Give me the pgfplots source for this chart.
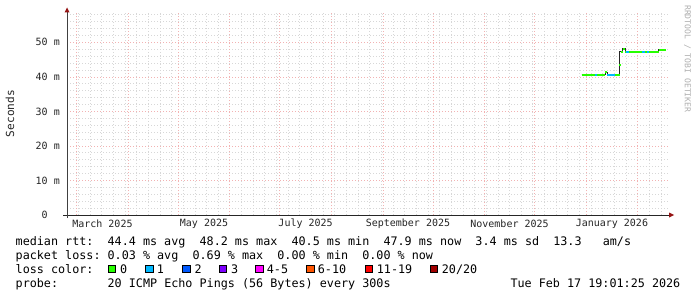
\documentclass[border=0pt]{standalone}
\usepackage{fontspec}
\setmainfont{DejaVu Sans Mono}
\usepackage{pgfplots}
\pgfplotsset{compat=1.18}
\definecolor{majgrid}{RGB}{242,178,178}
\definecolor{mingrid}{RGB}{215,215,215}
\definecolor{arrowred}{RGB}{150,20,20}
\definecolor{loss0}{HTML}{26FF00}
\definecolor{loss1}{HTML}{00B8FF}
\definecolor{loss2}{HTML}{0059FF}
\definecolor{loss3}{HTML}{7E00FF}
\definecolor{loss5}{HTML}{FF00FF}
\definecolor{loss10}{HTML}{FF5500}
\definecolor{loss19}{HTML}{FF0000}
\definecolor{loss20}{HTML}{A10000}
\definecolor{wm}{RGB}{175,175,175}
\newcommand\legfont{\fontsize{11.75bp}{14bp}\selectfont}
\newcommand\axfont{\fontsize{10bp}{12bp}\selectfont}
\begin{document}
\frenchspacing
\begin{tikzpicture}[x=1bp,y=1bp]
\fill[white] (0,0) rectangle (697,297);
\path[use as bounding box] (0,0) rectangle (697,297);
\begin{axis}[
  at={(67bp,82bp)}, anchor=south west,
  scale only axis, width=602bp, height=202.7bp,
  xmin=53.2, xmax=414.8, ymin=0, ymax=58.7,
  axis line style={draw=none},
  tick style={draw=none},
  xtick={74.5,135.5,196.5,258,319,380.5},
  xticklabels={March 2025,May 2025,July 2025,September 2025,November 2025,January 2026},
  minor xtick={60,67,...,410},
  extra x ticks={59,90,120,151,181,212,243,273,304,334,365,396},
  extra x tick labels={},
  extra x tick style={grid=major},
  ytick={0,10,...,50},
  yticklabels={0\hphantom{00},10~m,20~m,30~m,40~m,50~m},
  minor ytick={2,4,...,58},
  xmajorgrids=false, xminorgrids=true, ymajorgrids=true, yminorgrids=true,
  major grid style={majgrid, line width=0.7bp, dash pattern=on 1bp off 2bp},
  minor grid style={mingrid, line width=0.7bp, dash pattern=on 1bp off 2bp},
  xticklabel style={font=\axfont, anchor=center, yshift=-9bp, text=black!85},
  yticklabel style={font=\axfont, anchor=east, inner sep=0pt, xshift=-7bp, text=black!85},
  ylabel={Seconds},
  every axis y label/.style={at={(axis description cs:-0.0947,0.5)}, anchor=center, rotate=90, font=\fontsize{11.1bp}{13bp}\selectfont, text=black!85},
  unbounded coords=jump,
]
\addplot[black!85, line width=0.9bp] coordinates {
(362.3,40.6)(376.4,40.6)(376.4,41.4)(377.8,41.4)(377.8,40.6)(385.2,40.6)
(385.2,47.25)(387.0,47.25)(387.0,48.2)(388.4,48.2)(388.4,47.25)(408.6,47.25)
(408.6,47.8)(412.8,47.8)};
\addplot[loss0, line width=2bp] coordinates {
(362.3,40.6)(370.3,40.6)(370.3,nan)
(371.7,40.6)(376.4,40.6)(376.4,nan)
(376.6,41.4)(377.8,41.4)(377.8,nan)
(382.4,40.6)(385.1,40.6)(385.1,nan)
(384.8,43.5)(385.9,43.5)(385.9,nan)
(385.9,47.25)(387.0,47.25)(387.0,nan)
(387.4,48.2)(388.4,48.2)(388.4,nan)
(388.4,47.25)(388.8,47.25)(388.8,nan)
(390.8,47.25)(398.4,47.25)(398.4,nan)
(400.4,47.25)(401.6,47.25)(401.6,nan)
(402.5,47.25)(408.6,47.25)(408.6,nan)
(408.6,47.8)(412.8,47.8)};
\addplot[loss1, line width=2bp] coordinates {
(370.3,40.6)(371.7,40.6)(371.7,nan)
(377.8,40.6)(382.4,40.6)(382.4,nan)
(388.8,47.25)(390.8,47.25)(390.8,nan)
(398.4,47.25)(400.4,47.25)(400.4,nan)
(401.6,47.25)(402.5,47.25)};
\end{axis}
% axis lines and arrows
\draw[black!85, line width=1bp] (63,82) -- (670,82);
\draw[black!75, line width=1bp] (67,79) -- (67,285);
\fill[arrowred] (64.5,284.5) -- (69.5,284.5) -- (67,289.5) -- cycle;
\fill[arrowred] (669,84.5) -- (669,79.5) -- (674,82) -- cycle;
% watermark
\node[rotate=-90, anchor=west, inner sep=0pt, text=wm, font=\fontsize{8.1bp}{9bp}\selectfont] at (687.5,292) {RRDTOOL / TOBI OETIKER};
% legend text
\begin{scope}[every node/.style={inner sep=0pt, anchor=base west, font=\legfont, text=black}]
\node at (15.5,52) {median~rtt:~~44.4~ms~avg~~48.2~ms~max~~40.5~ms~min~~47.9~ms~now~~3.4~ms~sd~~13.3~~~am/s};
\node at (15.5,37.7) {packet~loss:~0.03~\%~avg~~0.69~\%~max~~0.00~\%~min~~0.00~\%~now};
\node at (15.5,23.7) {loss~color:};
\node at (15.5,9.3) {probe:~~~~~~~20~ICMP~Echo~Pings~(56~Bytes)~every~300s};
\node[anchor=base east] at (680.5,9.3) {Tue~Feb~17~19:01:25~2026};
\foreach \bx/\tx/\c/\lab in {108.3/120/loss0/0, 145.7/156.7/loss1/1, 182.7/194.3/loss2/2, 219.3/231/loss3/3, 255.7/266.7/loss5/4-5, 306.7/317.7/loss10/6-10, 365/376.7/loss19/11-19, 430/441.7/loss20/20\slash 20}{
  \filldraw[fill=\c, draw=black, line width=0.8bp] (\bx,24.6) rectangle ++(7.4,7.4);
  \node at (\tx,23.7) {\lab};
}
\end{scope}
\end{tikzpicture}
\end{document}
